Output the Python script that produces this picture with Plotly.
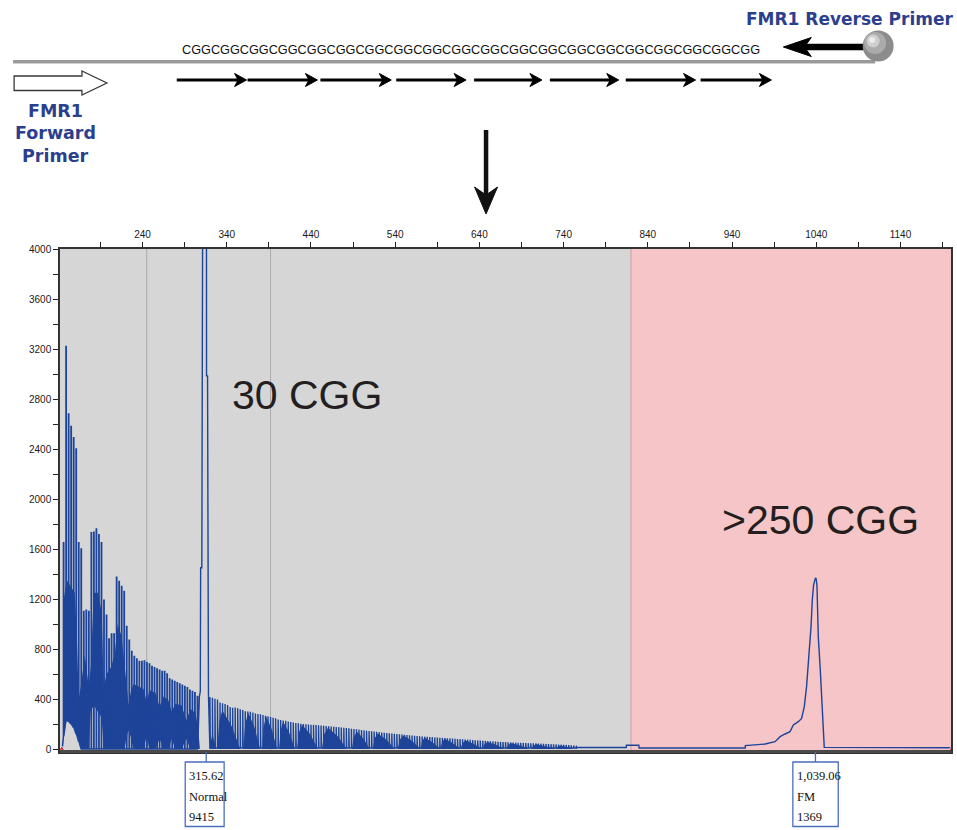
import plotly.graph_objects as go

# ---------------- data ----------------
# early stutter spikes (bp) left of the normal allele peak
spike_bp_early = [146, 149, 152, 155, 158, 161, 164, 167, 170, 173,
                  176, 179, 182, 185, 188, 191, 194, 197, 200, 203,
                  206, 209, 212, 215, 218, 221, 224, 227, 230, 233,
                  236, 239, 242, 245, 248, 251, 254, 257, 260, 263,
                  266, 269, 272, 275, 278, 281, 284, 287, 290, 293,
                  296, 299, 302, 305]
spike_top_early = [1650, 3220, 2680, 2580, 2490, 2400, 1650, 1600, 1100, 1110,
                   1100, 1730, 1735, 1760, 1715, 1650, 1190, 1070, 880, 920,
                   920, 1375, 1340, 1300, 1260, 980, 870, 780, 740, 720,
                   700, 700, 705, 690, 680, 660, 650, 640, 630, 620,
                   620, 600, 560, 550, 540, 530, 520, 510, 500, 490,
                   470, 460, 450, 420]
spike_low_early = [100, 230, 220, 200, 170, 120, 60, 0, 0, 0,
                   0, 0, 0, 0, 0, 0, 0, 0, 0, 0,
                   0, 0, 0, 0, 0, 0, 0, 0, 0, 0,
                   0, 0, 0, 0, 0, 0, 0, 0, 0, 0,
                   0, 0, 0, 0, 0, 0, 0, 0, 0, 0,
                   0, 0, 0, 0]

# normal allele peak (315.62 bp, height 9415)
peak_bp = [307.5, 308.6, 309.0, 310.4, 310.8, 312.0, 315.62, 316.0, 317.2, 317.6, 318.3]
peak_val = [420, 460, 1450, 1450, 2210, 6000, 9415, 2985, 2985, 620, 430]

# stutter spikes right of the normal peak
spike_bp_late = [320, 323, 326, 329, 332, 335, 338, 341, 344, 347,
                 350, 353, 356, 359, 362, 365, 368, 371, 374, 377,
                 380, 383, 386, 389, 392, 395, 398, 401, 404, 407,
                 410, 413, 416, 419, 422, 425, 428, 431, 434, 437,
                 440, 443, 446, 449, 452, 455, 458, 461, 464, 467,
                 470, 473, 476, 479, 482, 485, 488, 491, 494, 497,
                 500, 503, 506, 509, 512, 515, 518, 521, 524, 527,
                 530, 533, 536, 539, 542, 545, 548, 551, 554, 557,
                 560, 563, 566, 569, 572, 575, 578, 581, 584, 587,
                 590, 593, 596, 599, 602, 605, 608, 611, 614, 617,
                 620, 623, 626, 629, 632, 635, 638, 641, 644, 647,
                 650, 653, 656, 659, 662, 665, 668, 671, 674, 677,
                 680, 683, 686, 689, 692, 695, 698, 701, 704, 707,
                 710, 713, 716, 719, 722, 725, 728, 731, 734, 737,
                 740, 743, 746, 749, 752, 755]
spike_top_late = [415, 410, 402, 396, 372, 366, 360, 352, 336, 330,
                  332, 326, 318, 312, 302, 300, 298, 292, 284, 280,
                  278, 272, 266, 262, 256, 250, 246, 236, 232, 228,
                  226, 220, 216, 212, 208, 206, 202, 200, 198, 196,
                  194, 193, 192, 190, 188, 186, 184, 182, 180, 178,
                  176, 175, 172, 170, 168, 166, 162, 160, 158, 155,
                  152, 149, 147, 144, 142, 140, 138, 135, 132, 130,
                  128, 126, 124, 122, 120, 118, 116, 114, 112, 110,
                  108, 106, 104, 102, 100, 99, 98, 96, 95, 93,
                  92, 90, 89, 88, 86, 85, 84, 82, 80, 79,
                  78, 76, 75, 74, 72, 70, 69, 68, 66, 65,
                  64, 62, 61, 60, 58, 57, 56, 55, 54, 53,
                  52, 51, 50, 50, 49, 48, 47, 46, 46, 45,
                  44, 43, 42, 41, 40, 39, 38, 37, 36, 35,
                  34, 33, 32, 30, 28, 26]
spike_low_late = 8

# dense (solid) part of the stutter signal: outline points
band_bp = [145.5, 146.5, 150, 155, 159.5, 162, 164.3, 166.7, 171.4, 176.1,
           178.5, 182.1, 186.8, 191.5, 193.9, 197.4, 202.2, 206.9, 210.5, 215.2,
           218.7, 221.1, 223.5, 225.8, 229.4, 235.3, 241.2, 244.8, 248.3, 255.4,
           260.2, 264.9, 270.8, 274.4, 279.1, 286.2, 292.1, 296.8, 302.8, 306.3,
           308.1,
           319.3, 322.9, 327.6,
           328.8, 331.2, 334.7, 345.4, 356.0,
           359.6, 361.9, 365.5, 372.6, 379.7,
           382.0, 383.8, 386.8, 393.3, 399.8,
           402.2, 404.0, 406.9, 414.0, 421.1,
           423.5, 425.8, 429.4, 438.9, 448.3,
           453.1, 455.4, 460.2, 471.4, 482.6,
           488.6, 490.9, 494.5, 502.2, 509.9,
           513.4, 515.8, 519.3, 529.4, 539.4,
           543.0, 545.4, 550.1, 559.6, 569.0,
           570.2, 572.0, 574.9, 583.8, 592.7,
           593.9, 595.7, 598.6, 607.5, 616.4,
           617.5, 619.9, 623.5, 632.9, 642.4,
           643.6, 646.0, 649.5, 659.5, 669.6,
           672.0, 674.3, 677.9, 688.5, 699.2,
           701.6, 703.9, 707.5, 718.1, 728.8,
           731.2, 733.5, 735.9, 744.2, 752.5]
band_lo = [0, 100, 230, 200, 160, 110, 60, 0, 0, 0,
           300, 350, 300, 250, 0, 0, 0, 0, 0, 0,
           0, 100, 150, 100, 0, 0, 0, 100, 0, 0,
           80, 0, 0, 80, 0, 0, 80, 0, 0, 0,
           0,
           0, 0, 0,
           0, 0, 0, 0, 0,
           0, 0, 0, 0, 0,
           0, 0, 0, 0, 0,
           0, 0, 0, 0, 0,
           0, 0, 0, 0, 0,
           0, 0, 0, 0, 0,
           0, 0, 0, 0, 0,
           0, 0, 0, 0, 0,
           0, 0, 0, 0, 0,
           0, 0, 0, 0, 0,
           0, 0, 0, 0, 0,
           0, 0, 0, 0, 0,
           0, 0, 0, 0, 0,
           0, 0, 0, 0, 0,
           0, 0, 0, 0, 0,
           0, 0, 0, 0, 0]
band_hi = [0, 1200, 1350, 1300, 1250, 900, 400, 500, 750, 500,
           650, 1250, 1250, 1100, 500, 600, 650, 750, 1000, 900,
           650, 500, 350, 450, 520, 500, 480, 380, 470, 450,
           340, 420, 390, 300, 360, 350, 230, 320, 290, 150,
           0,
           0, 120, 0,
           0, 220, 310, 190, 0,
           0, 200, 290, 180, 0,
           0, 180, 260, 160, 0,
           0, 150, 220, 135, 0,
           0, 135, 195, 120, 0,
           0, 115, 170, 105, 0,
           0, 95, 140, 85, 0,
           0, 88, 125, 76, 0,
           0, 75, 108, 66, 0,
           0, 63, 92, 56, 0,
           0, 56, 82, 50, 0,
           0, 47, 68, 42, 0,
           0, 39, 56, 34, 0,
           0, 33, 47, 29, 0,
           0, 26, 38, 23, 0,
           0, 20, 28, 17, 0]

# baseline and full-mutation peak (1,039.06 bp, height 1369)
tail_bp = [757, 814.4, 814.6, 829.4, 829.6, 955.6, 955.8, 979.3, 991.1, 997.1,
           1003.0, 1008.9, 1012.8, 1018.7, 1022.6, 1025.8, 1028.5, 1031.4, 1033.8, 1035.3,
           1036.8, 1039.06, 1040.0, 1040.9, 1042.4, 1044.8, 1047.1, 1049.5, 1199.5]
tail_val = [12, 12, 30, 30, 8, 8, 27, 40, 59, 99,
            120, 139, 192, 219, 245, 339, 499, 739, 979, 1192,
            1312, 1369, 1360, 1299, 899, 632, 285, 13, 10]

gray_bins = [245, 392]
fm_zone = [820, 1200]
x_range = [142, 1200]
y_range = [-24, 4000]

peak_labels = [
    dict(bp=315.62, lines=["315.62", "Normal", "9415"]),
    dict(bp=1039.06, lines=["1,039.06", "FM", "1369"]),
]
seq_text = "CGG" * 20

# ---------------- build the signal ----------------
BLUE = "#1d4499"
xs, ys = [144.5], [0]
for p, t, lo in zip(spike_bp_early, spike_top_early, spike_low_early):
    xs += [p, p, p + 0.5, p + 0.5]
    ys += [lo, t, t, lo]
xs += peak_bp
ys += peak_val
for p, t in zip(spike_bp_late, spike_top_late):
    xs += [p, p, p + 0.5, p + 0.5]
    ys += [spike_low_late, t, t, spike_low_late]
xs += tail_bp
ys += tail_val

fig = go.Figure()
fig.add_trace(go.Scatter(
    x=band_bp + band_bp[::-1], y=band_hi + band_lo[::-1],
    fill="toself", fillcolor=BLUE, mode="lines", line=dict(width=0),
    hoverinfo="skip"))
fig.add_trace(go.Scatter(x=xs, y=ys, mode="lines",
                         line=dict(color=BLUE, width=1.4), hoverinfo="skip"))
fig.add_trace(go.Scatter(x=[144.0, 1199.6], y=[-8, -8], mode="markers",
                         marker=dict(symbol="triangle-up", size=[8, 5], color="#e8141c"),
                         cliponaxis=False, hoverinfo="skip"))

# ---------------- geometry helpers (pixel -> paper) ----------------
L, R, T, B = 60, 4, 249, 78
W, H = 957, 830
PW, PH = W - L - R, H - T - B


def PX(px):
    return (px - L) / PW


def PY(py):
    return (H - B - py) / PH


shapes = []
# FM zone and bin lines
shapes.append(dict(type="rect", xref="x", yref="paper", x0=fm_zone[0], x1=fm_zone[1], y0=0, y1=1,
                   fillcolor="#f6c5c7", line=dict(width=0), layer="below"))
shapes.append(dict(type="line", xref="x", yref="paper", x0=fm_zone[0], x1=fm_zone[0], y0=0, y1=1,
                   line=dict(color="#dc9aa0", width=1), layer="below"))
for g in gray_bins:
    shapes.append(dict(type="line", xref="x", yref="paper", x0=g, x1=g, y0=0, y1=1,
                       line=dict(color="#ababab", width=1), layer="below"))
# thick bottom axis
shapes.append(dict(type="line", xref="paper", yref="paper", x0=0, x1=1, y0=PY(751.5), y1=PY(751.5),
                   line=dict(color="#4a4a4a", width=3)))

# label boxes under the axis
box_px = {315.62: (185.5, 224.5), 1039.06: (794.5, 840.0)}
annotations = []
for lab in peak_labels:
    x0, x1 = box_px[lab["bp"]]
    shapes.append(dict(type="line", xref="x", yref="paper", x0=lab["bp"], x1=lab["bp"],
                       y0=PY(752), y1=PY(762), line=dict(color="#4a6cc0", width=1.3)))
    shapes.append(dict(type="rect", xref="paper", yref="paper", x0=PX(x0), x1=PX(x1),
                       y0=PY(826.5), y1=PY(762), line=dict(color="#4a6cc0", width=1.3),
                       fillcolor="white"))
    for k, txt in enumerate(lab["lines"]):
        annotations.append(dict(xref="paper", yref="paper", x=PX(x0 + 2), y=PY(776 + 20.5 * k),
                                text=txt, showarrow=False, xanchor="left", yanchor="middle",
                                font=dict(family="Liberation Serif, Times New Roman", size=12.5,
                                          color="#111")))

# ---- top schematic ----
# template strand
shapes.append(dict(type="line", xref="paper", yref="paper", x0=PX(13), x1=PX(877),
                   y0=PY(61.5), y1=PY(61.5), line=dict(color="#9a9a9a", width=3)))
shapes.append(dict(type="line", xref="paper", yref="paper", x0=PX(13), x1=PX(877),
                   y0=PY(63.5), y1=PY(63.5), line=dict(color="#d0d0d0", width=1)))
# forward primer (open block arrow)
fwd = [(14, 76), (82, 76), (82, 71), (107, 83), (82, 95), (82, 90.5), (14, 90.5)]
path = "M " + " L ".join(f"{PX(a):.5f},{PY(b):.5f}" for a, b in fwd) + " Z"
shapes.append(dict(type="path", xref="paper", yref="paper", path=path,
                   fillcolor="white", line=dict(color="#3a3a3a", width=1.3)))
# reverse primer arrow + bead
shapes.append(dict(type="line", xref="paper", yref="paper", x0=PX(806), x1=PX(868),
                   y0=PY(47), y1=PY(47), line=dict(color="black", width=6.5)))
rev = [(785, 47), (813, 37.5), (806, 47), (813, 56.5)]
path = "M " + " L ".join(f"{PX(a):.5f},{PY(b):.5f}" for a, b in rev) + " Z"
shapes.append(dict(type="path", xref="paper", yref="paper", path=path,
                   fillcolor="black", line=dict(color="black", width=1)))
for (cx, cy, r, col) in [(880, 46, 15.5, "#8c8c8c"), (877, 43, 11, "#ababab"),
                         (875, 41, 6.5, "#cfcfcf"), (874, 40, 3, "#ececec")]:
    shapes.append(dict(type="circle", xref="paper", yref="paper",
                       x0=PX(cx - r), x1=PX(cx + r), y0=PY(cy + r), y1=PY(cy - r),
                       fillcolor=col, line=dict(width=0)))
# repeat-primed extension arrows
small_arrows = [(177, 247), (248, 318), (321, 392), (397, 467),
                (475, 543), (551, 620), (627, 697), (702, 773)]
for a, b in small_arrows:
    shapes.append(dict(type="line", xref="paper", yref="paper", x0=PX(a), x1=PX(b - 6),
                       y0=PY(80), y1=PY(80), line=dict(color="black", width=3)))
    head = [(b, 80), (b - 12, 73.5), (b - 8.5, 80), (b - 12, 86.5)]
    path = "M " + " L ".join(f"{PX(u):.5f},{PY(v):.5f}" for u, v in head) + " Z"
    shapes.append(dict(type="path", xref="paper", yref="paper", path=path,
                       fillcolor="black", line=dict(color="black", width=1)))
# big down arrow
shapes.append(dict(type="line", xref="paper", yref="paper", x0=PX(487), x1=PX(487),
                   y0=PY(130), y1=PY(198), line=dict(color="#111", width=4.5)))
head = [(487, 214), (475.5, 187), (487, 195), (498.5, 187)]
path = "M " + " L ".join(f"{PX(u):.5f},{PY(v):.5f}" for u, v in head) + " Z"
shapes.append(dict(type="path", xref="paper", yref="paper", path=path,
                   fillcolor="#111", line=dict(color="#111", width=1)))

NAVY = "#2b3f8e"
annotations += [
    dict(xref="paper", yref="paper", x=PX(472), y=PY(49.5), text=seq_text, showarrow=False,
         xanchor="center", yanchor="middle",
         font=dict(family="Liberation Sans, Arial", size=12.7, color="#111")),
    dict(xref="paper", yref="paper", x=PX(851), y=PY(19), text="<b>FMR1 Reverse Primer</b>",
         showarrow=False, xanchor="center", yanchor="middle",
         font=dict(family="DejaVu Sans", size=17, color=NAVY)),
]
for txt, py in [("FMR1", 111), ("Forward", 133.5), ("Primer", 156)]:
    annotations.append(dict(xref="paper", yref="paper", x=PX(55.5), y=PY(py), text=f"<b>{txt}</b>",
                            showarrow=False, xanchor="center", yanchor="middle",
                            font=dict(family="DejaVu Sans", size=17.5, color=NAVY)))
# region labels
annotations += [
    dict(xref="x", yref="y", x=435, y=2830, text="30 CGG", showarrow=False,
         xanchor="center", yanchor="middle",
         font=dict(family="Liberation Sans, Arial", size=41, color="#231f20")),
    dict(xref="x", yref="y", x=1045, y=1830, text="&gt;250 CGG", showarrow=False,
         xanchor="center", yanchor="middle",
         font=dict(family="Liberation Sans, Arial", size=41, color="#231f20")),
]

tickfont = dict(family="Liberation Sans, Arial", size=10, color="#1a1a1a")
fig.update_layout(
    width=W, height=H, autosize=False,
    margin=dict(l=L, r=R, t=T, b=B, pad=0),
    paper_bgcolor="white", plot_bgcolor="#d6d6d6",
    showlegend=False, shapes=shapes, annotations=annotations,
    xaxis=dict(range=x_range, side="top", tick0=240, dtick=100, tickformat="d",
               ticks="outside", ticklen=5, tickwidth=1.2, tickcolor="#222",
               showline=True, linecolor="#333", linewidth=1.5, mirror=True,
               showgrid=False, zeroline=False, tickfont=tickfont,
               minor=dict(tick0=190, dtick=100, ticks="outside", ticklen=5,
                          tickwidth=1.2, tickcolor="#222", showgrid=False)),
    yaxis=dict(range=y_range, tick0=0, dtick=400, tickformat="d",
               ticks="outside", ticklen=5, tickwidth=1.2, tickcolor="#222",
               showline=True, linecolor="#333", linewidth=1.5, mirror=True,
               showgrid=False, zeroline=False, tickfont=tickfont,
               minor=dict(tick0=0, dtick=200, ticks="outside", ticklen=5,
                          tickwidth=1.2, tickcolor="#222", showgrid=False)),
)
fig.write_html("out.html")
